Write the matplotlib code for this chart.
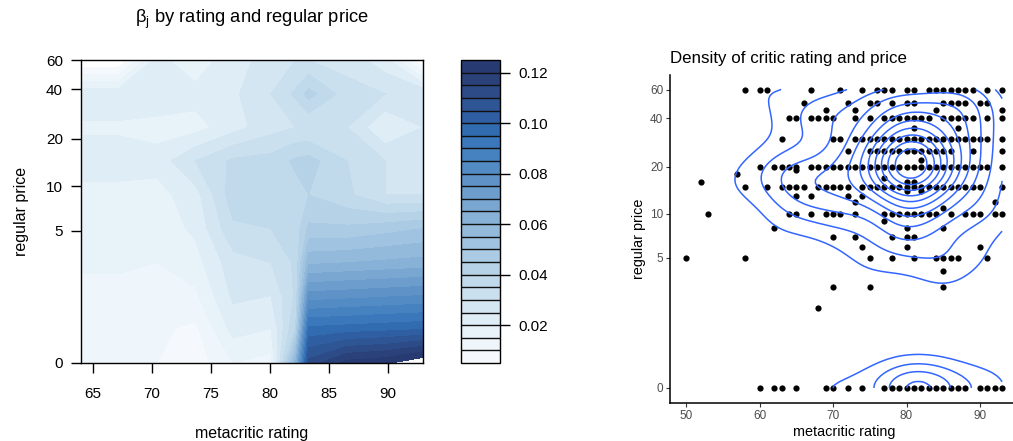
import numpy as np
import matplotlib
matplotlib.use("Agg")
import matplotlib.pyplot as plt

plt.rcParams['font.family'] = ['Liberation Sans', 'DejaVu Sans']
plt.rcParams['mathtext.fontset'] = 'custom'
plt.rcParams['mathtext.rm'] = 'Liberation Sans'
plt.rcParams['mathtext.it'] = 'Liberation Sans:italic'
plt.rcParams['mathtext.default'] = 'regular'

# ---- left panel: beta_j surface ----
rating_nodes = [64, 67.2, 70.4, 73.7, 76.9, 80.1, 82.2, 83.3, 86.6, 89.8, 93]
price_nodes = [0, 0.6, 1.5, 2.9, 5.2, 8.8, 14.5, 23.5, 37.5, 60]
beta = [
    [0.011, 0.011, 0.010, 0.007, 0.015, 0.013, 0.060, 0.112, 0.122, 0.124, 0.130],
    [0.012, 0.012, 0.011, 0.009, 0.022, 0.020, 0.040, 0.096, 0.097, 0.098, 0.099],
    [0.013, 0.013, 0.013, 0.014, 0.026, 0.025, 0.036, 0.077, 0.078, 0.079, 0.080],
    [0.016, 0.016, 0.015, 0.018, 0.028, 0.030, 0.036, 0.059, 0.060, 0.061, 0.062],
    [0.017, 0.017, 0.017, 0.021, 0.034, 0.035, 0.037, 0.046, 0.046, 0.048, 0.050],
    [0.018, 0.018, 0.018, 0.023, 0.038, 0.036, 0.038, 0.040, 0.036, 0.030, 0.030],
    [0.023, 0.023, 0.022, 0.030, 0.036, 0.037, 0.041, 0.042, 0.035, 0.030, 0.028],
    [0.019, 0.019, 0.018, 0.018, 0.023, 0.028, 0.030, 0.030, 0.030, 0.020, 0.025],
    [0.024, 0.024, 0.024, 0.022, 0.024, 0.030, 0.036, 0.042, 0.032, 0.030, 0.030],
    [0.000, 0.000, 0.022, 0.016, 0.024, 0.026, 0.030, 0.030, 0.028, 0.022, 0.000],
]
beta_levels = np.arange(0.005, 0.1251, 0.005)
# one colour per level band, lowest band first
band_colors = ["#F5F9FD", "#EFF6FB", "#E8F2F9", "#DFEDF7", "#D5E6F3", "#CBE0EF",
               "#C0D9EB", "#B6D2E7", "#ABCBE4", "#9FC3E0", "#93BADB", "#87B1D6",
               "#79A7D1", "#6C9DCC", "#5F93C8", "#538BC4", "#4682C0", "#3A77BB",
               "#316BB0", "#2F5FA2", "#2E5594", "#2C4B87", "#2B4179", "#283A72"]
cbar_ticks = [0.02, 0.04, 0.06, 0.08, 0.10, 0.12]
price_ticks = [0, 5, 10, 20, 40, 60]

# ---- right panel: games (rating, regular price) ----
points_by_price = {
    60: [58, 60, 61, 67, 71, 74, 76, 77, 78, 80, 81, 83, 84, 85, 86, 87, 88, 89, 91, 93],
    50: [66, 72, 75, 76, 78, 80, 81, 85, 86, 87, 88, 90, 91],
    45: [69, 73, 84, 93],
    40: [64, 65, 67, 68, 69, 70, 73, 75, 77, 78, 79, 80, 81, 82, 83, 85, 86, 87, 88, 89, 91, 93],
    35: [81, 87],
    30: [63, 70, 71, 73, 74, 75, 76, 77, 78, 79, 80, 81, 82, 83, 84, 85, 86, 87, 88, 89, 90, 91, 93],
    25: [72, 75, 76, 77, 78, 79, 80, 81, 82, 83, 84, 85, 86, 89, 93],
    22: [82],
    20: [60, 62, 63, 64, 65, 67, 68, 69, 70, 71, 72, 73, 74, 75, 76, 77, 78, 79, 80, 81, 82,
         83, 84, 85, 86, 87, 88, 89, 90, 91, 93],
    19: [65],
    18: [57],
    17: [77],
    16: [52, 80, 81],
    15: [58, 61, 63, 64, 65, 66, 68, 69, 70, 71, 72, 74, 75, 76, 77, 78, 79, 80, 81, 82, 83,
         84, 85, 86, 87, 88, 89, 90, 93],
    14: [80, 82],
    13: [65, 67, 72, 74],
    12: [73, 92],
    11: [85],
    10: [53, 64, 65, 67, 69, 70, 71, 73, 77, 78, 79, 80, 81, 82, 83, 84, 86, 88, 89, 90, 92, 93],
    9: [77],
    8: [62, 80, 85],
    7: [70, 73, 78, 80, 81],
    6: [74, 80, 90],
    5: [50, 58, 75, 78, 81, 84, 85, 86, 87, 91],
    4: [85],
    3: [70, 75, 85],
    2: [68],
    0: [60, 62, 63, 65, 69, 70, 72, 74, 77, 78, 79, 80, 81, 82, 83, 84, 85, 86, 87, 88, 90, 91, 92, 93],
}
# extra games hidden under the same dot (estimated from the density rings)
overplotted = {
    (20, 77): 1, (20, 78): 2, (20, 79): 2, (20, 80): 3, (20, 81): 3, (20, 82): 2,
    (20, 83): 2, (20, 84): 1, (20, 85): 1,
    (25, 79): 1, (25, 80): 1, (25, 81): 1, (25, 82): 1,
    (30, 79): 1, (30, 80): 1, (30, 81): 1, (30, 82): 1,
    (15, 78): 1, (15, 79): 1, (15, 80): 1, (15, 81): 1, (15, 82): 1, (15, 83): 1,
    (40, 80): 1, (40, 81): 1, (10, 80): 1, (10, 81): 1,
    (0, 78): 1, (0, 79): 1, (0, 80): 2, (0, 81): 2, (0, 82): 2, (0, 83): 1,
    (0, 84): 1, (0, 85): 1,
}
n_density_lines = 11
rating_ticks = [50, 60, 70, 80, 90]


def bw_nrd(v):
    q = np.quantile(v, [0.25, 0.75])
    return 4 * 1.06 * min(np.std(v, ddof=1), (q[1] - q[0]) / 1.34) * len(v) ** (-0.2)


def kde2d(x, y, hx, hy, n=100):
    # normal-kernel grid density as in MASS::kde2d
    gx = np.linspace(x.min(), x.max(), n)
    gy = np.linspace(y.min(), y.max(), n)
    ax_ = np.exp(-0.5 * ((gx[:, None] - x[None, :]) / hx) ** 2) / np.sqrt(2 * np.pi)
    ay_ = np.exp(-0.5 * ((gy[:, None] - y[None, :]) / hy) ** 2) / np.sqrt(2 * np.pi)
    z = ax_ @ ay_.T / (len(x) * hx * hy)
    return gx, gy, z


W, H = 1013, 441
fig = plt.figure(figsize=(W / 100, H / 100), dpi=100)

ax1 = fig.add_axes([81 / W, 1 - 363 / H, 342 / W, 303 / H])
gX, gY = np.meshgrid(rating_nodes, np.log1p(price_nodes))
cf = ax1.contourf(gX, gY, np.array(beta), levels=beta_levels, colors=band_colors)
ax1.set_xlim(64, 93)
ax1.set_ylim(0, np.log1p(60))
ax1.set_xticks([65, 70, 75, 80, 85, 90])
ax1.set_yticks(np.log1p(price_ticks))
ax1.set_yticklabels([str(p) for p in price_ticks])
ax1.tick_params(axis='both', length=7, width=1, labelsize=11, direction='out')
ax1.tick_params(axis='x', pad=10)
ax1.tick_params(axis='y', pad=6)
for s in ax1.spines.values():
    s.set_linewidth(1.0)
ax1.set_xlabel("metacritic rating", fontsize=11.5, labelpad=18)
ax1.set_ylabel("regular price", fontsize=11.5, labelpad=12)
fig.text(252 / W, 1 - 19 / H, r"$\mathrm{\beta}_{\mathrm{j}}$ by rating and regular price",
         ha='center', va='center', fontsize=13.2)

cax = fig.add_axes([461 / W, 1 - 363 / H, 39 / W, 303 / H])
cb = fig.colorbar(cf, cax=cax, ticks=cbar_ticks, drawedges=True)
cb.outline.set_linewidth(1.0)
cb.dividers.set_color('#111111')
cb.dividers.set_linewidth(1.0)
cax.set_yticklabels(["%.2f" % t for t in cbar_ticks])
cax.tick_params(length=7, width=1, labelsize=11, pad=6)

# right panel
pairs = [(p, r) for p, rs in points_by_price.items() for r in rs]
sx = np.array([r for p, r in pairs], dtype=float)
sy = np.log1p(np.array([p for p, r in pairs], dtype=float))
reps = np.array([1 + overplotted.get((p, r), 0) for p, r in pairs])
kx, ky = np.repeat(sx, reps), np.repeat(sy, reps)

ax2 = fig.add_axes([670.2 / W, 1 - 402.9 / H, 347.7 / W, 328.3 / H])
ax2.scatter(sx, sy, s=20, c='black', linewidths=0, zorder=2)
gx, gy, z = kde2d(kx, ky, bw_nrd(sx) / 4, bw_nrd(sy) / 4)
lv = np.linspace(z.min(), z.max(), n_density_lines + 2)[1:-1]
ax2.contour(gx, gy, z.T, levels=lv, colors='#3366FF', linewidths=1.1, zorder=3)
ax2.set_xlim(47.85, 95.15)
ax2.set_ylim(-0.2056, np.log1p(60) + 0.2056)
ax2.set_xticks(rating_ticks)
ax2.set_yticks(np.log1p(price_ticks))
ax2.set_yticklabels([str(p) for p in price_ticks])
ax2.spines['top'].set_visible(False)
ax2.spines['right'].set_visible(False)
ax2.spines['left'].set_linewidth(1.1)
ax2.spines['bottom'].set_linewidth(1.1)
ax2.tick_params(length=3, width=0.8, color='#333333', labelcolor='#4D4D4D',
                labelsize=8.5, pad=2)
ax2.set_xlabel("metacritic rating", fontsize=10.4, labelpad=2)
ax2.set_ylabel("regular price", fontsize=10.4, labelpad=3)
fig.text(670 / W, 1 - 58 / H, "Density of critic rating and price", ha='left',
         va='center', fontsize=12.2)

fig.savefig("out.png", dpi=100)
